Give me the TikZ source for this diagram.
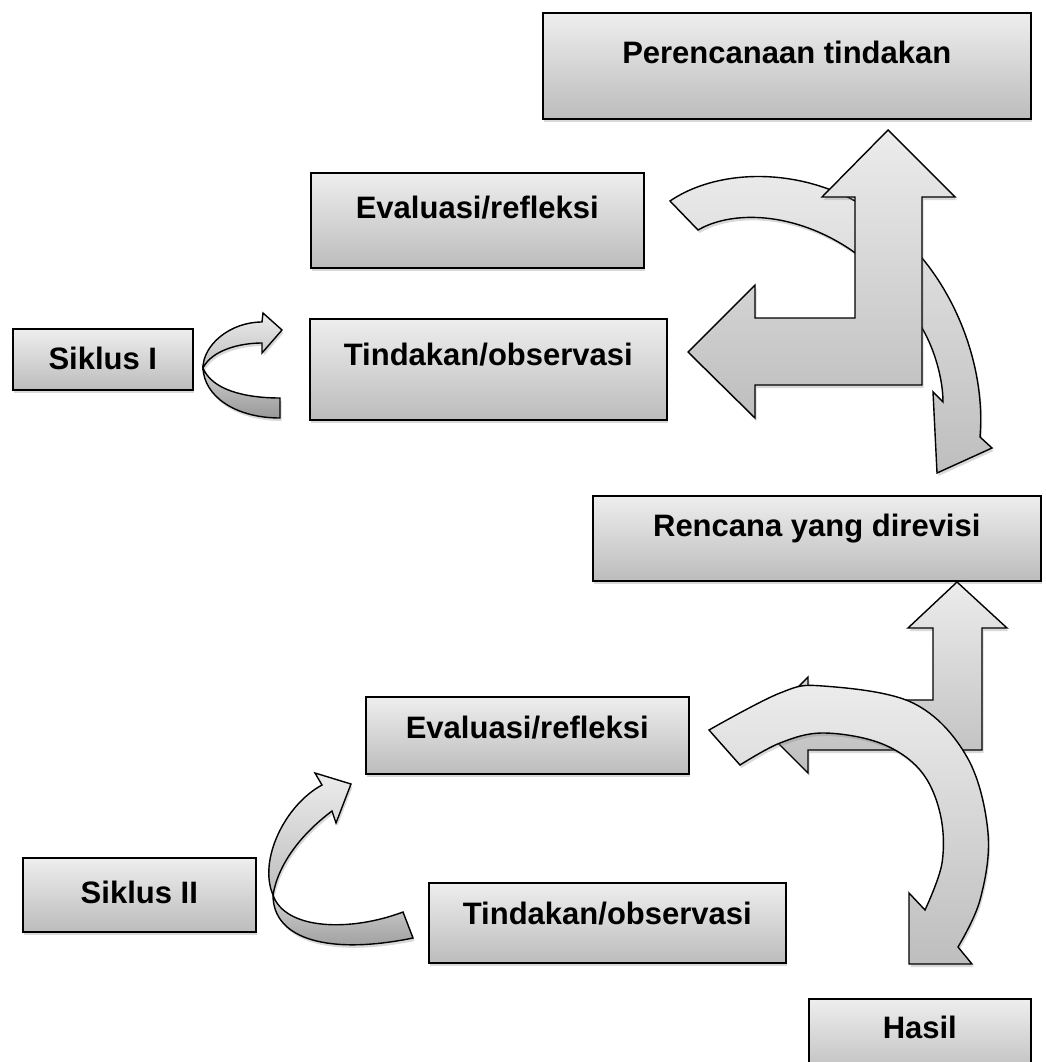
\documentclass[tikz,border=0pt]{standalone}
\usepackage{fontspec}
\setmainfont{Liberation Sans}
\usetikzlibrary{shadows}
\definecolor{boxtop}{HTML}{EEEEEE}
\definecolor{boxbot}{HTML}{BCBCBC}
\definecolor{arrtop}{HTML}{ECECEC}
\definecolor{arrbot}{HTML}{BEBEBE}
\definecolor{darktop}{HTML}{D2D2D2}
\definecolor{darkbot}{HTML}{989898}
\begin{document}
\begin{tikzpicture}[x=1pt,y=-1pt,
  box/.style={draw=black, line width=1.6pt, top color=boxtop, bottom color=boxbot,
    drop shadow={shadow xshift=1.5pt, shadow yshift=-3pt, opacity=0.3},
    inner sep=0pt, anchor=north west, font=\fontsize{31}{36}\selectfont\bfseries},
  blockarrow/.style={draw=black, line width=1.4pt, line join=miter, top color=arrtop, bottom color=arrbot,
    drop shadow={shadow xshift=1.5pt, shadow yshift=-3pt, opacity=0.3}},
  backribbon/.style={draw=black, line width=1.4pt, top color=darktop, bottom color=darkbot,
    drop shadow={shadow xshift=1.5pt, shadow yshift=-3pt, opacity=0.3}}]
\useasboundingbox (0,0) rectangle (1045,1062);
\clip (0,0) rectangle (1045,1062);

% boxes
\node[box, minimum width=488pt, minimum height=106pt, text height=51pt, text depth=55pt] (plan) at (542,12) {Perencanaan tindakan};
\node[box, minimum width=333pt, minimum height=95pt, text height=46pt, text depth=49pt] (evalA) at (310,172) {Evaluasi/refleksi};
\node[box, minimum width=180pt, minimum height=61pt, text height=41pt, text depth=20pt] (siklusA) at (12,328) {Siklus I};
\node[box, minimum width=357pt, minimum height=101pt, text height=47pt, text depth=54pt] (tindA) at (309,318) {Tindakan/observasi};
\node[box, minimum width=448pt, minimum height=85pt, text height=41pt, text depth=44pt] (revisi) at (592,495) {Rencana yang direvisi};
\node[box, minimum width=323pt, minimum height=77pt, text height=42pt, text depth=35pt] (evalB) at (365,696) {Evaluasi/refleksi};
\node[box, minimum width=233pt, minimum height=74pt, text height=46pt, text depth=28pt] (siklusB) at (22,857) {Siklus II};
\node[box, minimum width=357pt, minimum height=80pt, text height=42pt, text depth=38pt] (tindB) at (428,882) {Tindakan/observasi};
\node[box, minimum width=222pt, minimum height=80pt, text height=40pt, text depth=40pt] (hasil) at (808,998) {Hasil};

% Siklus I twisted arrow
\path[backribbon] (203,368) .. controls (204,396) and (235,418) .. (280,418) -- (280,398)
  .. controls (245,398) and (212,390) .. (203,368) -- cycle;
\path[blockarrow] (203,368) .. controls (203,345) and (230,322) .. (262,322) -- (263,313) -- (282,330)
  -- (262,353) -- (262,343) .. controls (240,343) and (212,350) .. (203,368) -- cycle;

% Siklus II twisted arrow
\path[backribbon] (273,895) .. controls (273,940) and (330,955) .. (413,938) -- (403,912)
  .. controls (350,932) and (285,930) .. (273,895) -- cycle;
\path[blockarrow] (273,895) .. controls (258,860) and (285,805) .. (322,785) -- (315,773) -- (351,784)
  -- (336,823) -- (332,811) .. controls (300,835) and (278,865) .. (273,895) -- cycle;

% top curved arrow (behind)
\path[blockarrow] (670,201) .. controls (730,160) and (850,165) .. (922,258)
  .. controls (965,310) and (985,380) .. (980,437) -- (992,448) -- (937,473) -- (933,392) -- (943,402)
  .. controls (943,380) and (935,350) .. (922,328) .. controls (860,220) and (750,200) .. (698,230) -- cycle;

% top bent arrow
\path[blockarrow] (888,130) -- (955,197) -- (922,197) -- (922,385) -- (755,385) -- (755,418) -- (688,352)
  -- (755,285) -- (755,318) -- (855,318) -- (855,197) -- (822,197) -- cycle;

% bottom bent arrow
\path[blockarrow] (957,582) -- (1007,628) -- (982,628) -- (982,750) -- (808,750) -- (808,773) -- (760,725)
  -- (808,677) -- (808,700) -- (933,700) -- (933,628) -- (908,628) -- cycle;

% bottom curved arrow (front)
\path[blockarrow] plot[smooth, tension=0.6] coordinates {(709,730) (780,693) (823,686) (913,703) (967,757) (988,833) (980,900) (958,947)}
  -- (972,964) -- (909,964) -- (909,893) -- (925,910)
  -- plot[smooth, tension=0.6] coordinates {(925,910) (942,863) (940,813) (920,770) (880,743) (823,733) (780,743) (740,765)} -- cycle;
\end{tikzpicture}
\end{document}
